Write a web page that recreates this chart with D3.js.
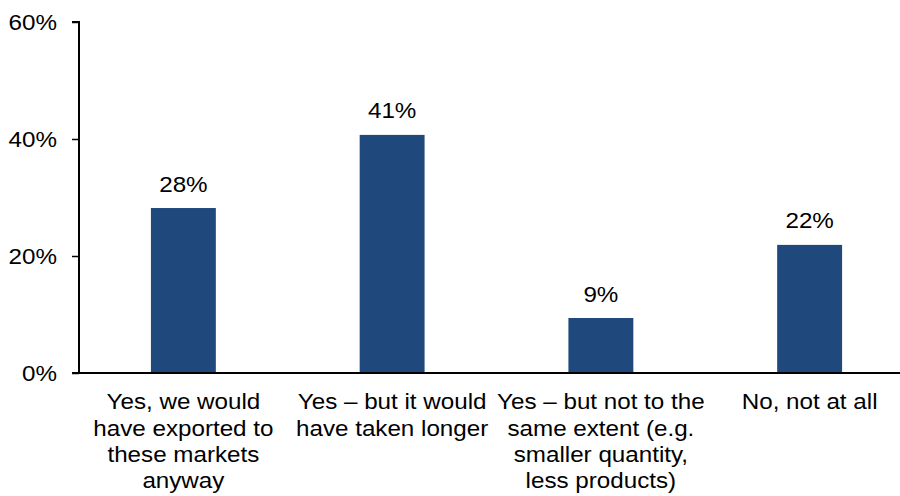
<!DOCTYPE html>
<html>
<head>
<meta charset="utf-8" />
<title>Export markets bar chart</title>
<script src="https://d3js.org/d3.v7.min.js"></script>
<style>
  body { margin: 0; background: #fff; }
  text { font-family: "Liberation Sans", Arial, sans-serif; fill: #000; }
</style>
</head>
<body>
<svg width="900" height="496"></svg>
<script>
// categories (one array entry per wrapped line of the label)
var categories = [
  ["Yes, we would", "have exported to", "these markets", "anyway"],
  ["Yes \u2013 but it would", "have taken longer"],
  ["Yes \u2013 but not to the", "same extent (e.g.", "smaller quantity,", "less products)"],
  ["No, not at all"]
];
var values = [28.2, 40.7, 9.4, 21.9];
var valueLabels = ["28%", "41%", "9%", "22%"];
var yTicks = [0, 20, 40, 60];

var svg = d3.select("svg"),
    W = +svg.attr("width"),
    plotLeft = 79, plotTop = 22, plotBottom = 373,
    fs = 22, stretch = "scale(1.1,1)";

var keys = categories.map(function(d, i) { return i; });

var x = d3.scaleBand()
  .domain(keys)
  .range([plotLeft, plotLeft + 4 * 208.75])
  .paddingInner(0.689)
  .paddingOuter(0.3445);

var y = d3.scaleLinear()
  .domain([0, 60])
  .range([plotBottom, plotTop]);

// bars
svg.append("g").selectAll("rect")
  .data(values)
  .enter().append("rect")
    .attr("x", function(d, i) { return x(i); })
    .attr("y", function(d) { return y(d); })
    .attr("width", x.bandwidth())
    .attr("height", function(d) { return y(0) - y(d); })
    .attr("fill", "#1f497d");

// value labels
svg.append("g").selectAll("text")
  .data(values)
  .enter().append("text")
    .attr("transform", function(d, i) {
      return "translate(" + (x(i) + x.bandwidth() / 2) + "," + (y(d) - 16.5) + ")" + stretch;
    })
    .attr("text-anchor", "middle")
    .attr("font-size", fs)
    .text(function(d, i) { return valueLabels[i]; });

// y axis
var yAxis = svg.append("g")
  .attr("transform", "translate(" + plotLeft + ",0)")
  .call(d3.axisLeft(y).tickValues(yTicks).tickSize(7).tickPadding(0)
    .tickFormat(function(d) { return d + "%"; }));
yAxis.select(".domain").attr("stroke", "#000").attr("stroke-width", 2)
  .attr("d", "M-7," + y(60) + "H0V" + y(0));
yAxis.selectAll(".tick line").attr("stroke", "#000").attr("stroke-width", 1.5);
yAxis.selectAll(".tick text")
  .attr("x", null)
  .attr("transform", "translate(-22,0)" + stretch)
  .attr("font-size", fs)
  .attr("font-family", "Liberation Sans, Arial, sans-serif")
  .attr("fill", "#000");

// x axis baseline
svg.append("line")
  .attr("x1", plotLeft - 7).attr("x2", W)
  .attr("y1", y(0)).attr("y2", y(0))
  .attr("stroke", "#000").attr("stroke-width", 2);

// category labels
var cat = svg.append("g").selectAll("text")
  .data(categories)
  .enter().append("text")
    .attr("text-anchor", "middle")
    .attr("font-size", fs)
    .attr("transform", function(d, i) { return "translate(" + (x(i) + x.bandwidth() / 2) + ",0)" + stretch; });

cat.selectAll("tspan")
  .data(function(d) { return d; })
  .enter().append("tspan")
    .attr("x", 0)
    .attr("y", function(d, j) { return 409.5 + j * 26.3; })
    .text(function(d) { return d; });
</script>
</body>
</html>
